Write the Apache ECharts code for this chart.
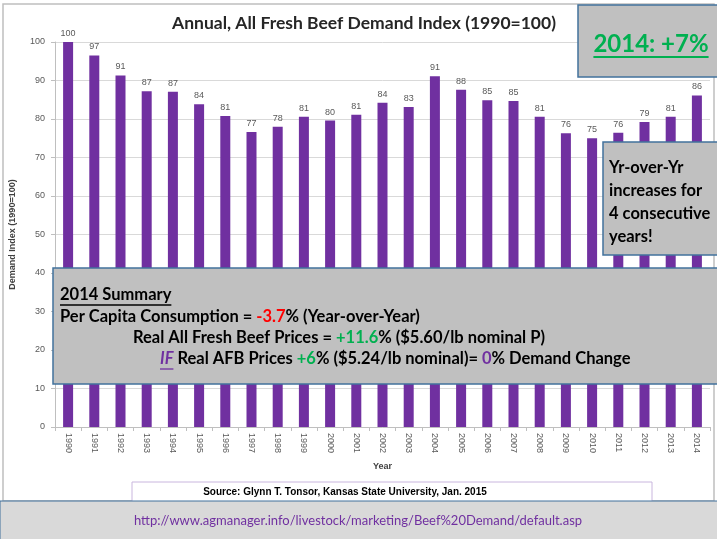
<!DOCTYPE html>
<html>
<head>
<meta charset="utf-8">
<script src="https://cdn.jsdelivr.net/npm/echarts@6/dist/echarts.min.js"></script>
<style>
  html, body { margin: 0; padding: 0; background: #fff; }
  #chart { width: 717px; height: 539px; }
</style>
</head>
<body>
<div id="chart"></div>
<script>
// data
const years = ['1990', '1991', '1992', '1993', '1994', '1995', '1996', '1997', '1998', '1999',
  '2000', '2001', '2002', '2003', '2004', '2005', '2006', '2007', '2008', '2009',
  '2010', '2011', '2012', '2013', '2014']
const demandIndex = [100, 96.5, 91.3, 87.2, 87.1, 83.8, 80.8, 76.6, 78, 80.6,
  79.6, 81.1, 84.2, 83.1, 91.1, 87.6, 84.9, 84.7, 80.6, 76.3,
  75, 76.4, 79.2, 80.6, 86.1]
const yTicks = [0, 10, 20, 30, 40, 50, 60, 70, 80, 90, 100]

const purple = '#7030a0'
const green = '#00b050'
const axisColor = '#595959'
const boxFill = '#c0c0c0'
const boxLine = '#41719c'
const calibri = 'Lato, "Open Sans", sans-serif'

// measure text to place underlines
const ctx = document.createElement('canvas').getContext('2d')
function textWidth (text, font) {
  ctx.font = font
  return ctx.measureText(text).width
}

const myChart = echarts.init(document.getElementById('chart'))

function underline (x, y, text, font, color, lw) {
  return {
    type: 'line',
    z: 20,
    shape: { x1: x, y1: y, x2: x + textWidth(text, font), y2: y },
    style: { stroke: color, lineWidth: lw || 1.5 }
  }
}

const sumSize = 16.5
const sumFont = 'bold ' + sumSize + 'px ' + calibri
const rich = {
  k: { fontFamily: calibri, fontWeight: 'bold', fontSize: sumSize, fill: '#000' },
  r: { fontFamily: calibri, fontWeight: 'bold', fontSize: sumSize, fill: '#ff0000' },
  g: { fontFamily: calibri, fontWeight: 'bold', fontSize: sumSize, fill: green },
  p: { fontFamily: calibri, fontWeight: 'bold', fontSize: sumSize, fill: purple },
  pi: { fontFamily: calibri, fontWeight: 'bold', fontStyle: 'italic', fontSize: sumSize, fill: purple }
}

function richLine (x, y, str) {
  return {
    type: 'text',
    z: 20,
    x: x,
    y: y,
    style: { text: str, rich: rich, verticalAlign: 'middle', font: sumFont }
  }
}

const bigFont = 'bold 24px ' + calibri

const graphics = [
  // chart frame
  { type: 'rect', z: -1, shape: { x: 3, y: 4, width: 711, height: 497 },
    style: { fill: 'none', stroke: '#bfbfbf', lineWidth: 1.5 } },
  // title
  { type: 'text', z: 5, x: 364, y: 23,
    style: { text: 'Annual, All Fresh Beef Demand Index (1990=100)', font: 'bold 17.5px ' + calibri,
      fill: '#262626', align: 'center', verticalAlign: 'middle' } },
  // 2014 box
  { type: 'rect', z: 15, shape: { x: 578, y: 5, width: 140, height: 72 },
    style: { fill: boxFill, stroke: boxLine, lineWidth: 1.5 } },
  { type: 'text', z: 20, x: 651, y: 44,
    style: { text: '2014: +7%', font: bigFont, fill: green, align: 'center', verticalAlign: 'middle' } },
  underline(651 - textWidth('2014: +7%', bigFont) / 2, 57, '2014: +7%', bigFont, green, 2),
  // yr-over-yr box
  { type: 'rect', z: 15, shape: { x: 603, y: 142, width: 116, height: 113 },
    style: { fill: boxFill, stroke: boxLine, lineWidth: 1.5 } },
  { type: 'text', z: 20, x: 609, y: 156,
    style: { text: 'Yr-over-Yr\nincreases for\n4 consecutive\nyears!', font: 'bold 16.5px ' + calibri,
      lineHeight: 23, fill: '#000', align: 'left', verticalAlign: 'top' } },
  // summary box
  { type: 'rect', z: 15, shape: { x: 53, y: 268, width: 666, height: 116 },
    style: { fill: boxFill, stroke: boxLine, lineWidth: 1.5 } },
  richLine(60, 295, '{k|2014 Summary}'),
  underline(60, 305, '2014 Summary', sumFont, '#000', 1.3),
  richLine(60, 317, '{k|Per Capita Consumption = }{r|-3.7}{k|% (Year-over-Year)}'),
  richLine(133, 338, '{k|Real All Fresh Beef Prices = }{g|+11.6}{k|% ($5.60/lb nominal P)}'),
  richLine(160, 359, '{pi|IF}{k| Real AFB Prices }{g|+6}{k|% ($5.24/lb nominal)= }{p|0}{k|% Demand Change}'),
  underline(160, 369, 'IF', 'italic ' + sumFont, purple, 1.3),
  // source box
  { type: 'rect', z: 5, shape: { x: 132, y: 482, width: 520, height: 22 },
    style: { fill: '#fff', stroke: '#c9b6de', lineWidth: 1 } },
  { type: 'text', z: 6, x: 345, y: 492,
    style: { text: 'Source: Glynn T. Tonsor, Kansas State University, Jan. 2015',
      font: 'bold 10px "Liberation Sans", Arial, sans-serif', fill: '#000', align: 'center', verticalAlign: 'middle' } },
  // url band
  { type: 'rect', z: 8, shape: { x: 0, y: 501, width: 718, height: 40 },
    style: { fill: '#d9d9d9', stroke: boxLine, lineWidth: 1 } },
  { type: 'text', z: 9, x: 358, y: 521,
    style: { text: 'http://www.agmanager.info/livestock/marketing/Beef%20Demand/default.asp',
      font: '13px ' + calibri, fill: purple, align: 'center', verticalAlign: 'middle' } }
]

const option = {
  animation: false,
  backgroundColor: '#fff',
  grid: { left: 53, right: 7, top: 42, bottom: 112 },
  xAxis: {
    type: 'category',
    data: years,
    name: 'Year',
    nameLocation: 'middle',
    nameGap: 35,
    nameTextStyle: { fontFamily: 'Liberation Sans', fontWeight: 'bold', fontSize: 9, color: '#404040' },
    axisLine: { lineStyle: { color: '#bfbfbf' } },
    axisTick: { show: true, length: 4, lineStyle: { color: '#bfbfbf' } },
    axisLabel: { rotate: -90, interval: 0, fontFamily: 'Liberation Sans', fontSize: 9, color: axisColor, margin: 6 }
  },
  yAxis: {
    type: 'value',
    min: yTicks[0],
    max: yTicks[yTicks.length - 1],
    interval: 10,
    name: 'Demand Index (1990=100)',
    nameLocation: 'middle',
    nameGap: 38,
    nameTextStyle: { fontFamily: 'Liberation Sans', fontWeight: 'bold', fontSize: 9, color: '#404040' },
    axisLine: { show: true, lineStyle: { color: '#bfbfbf' } },
    axisTick: { show: true, length: 4, lineStyle: { color: '#bfbfbf' } },
    axisLabel: { fontFamily: 'Liberation Sans', fontSize: 9, color: axisColor, margin: 10 },
    splitLine: { lineStyle: { color: '#d9d9d9' } }
  },
  series: [{
    type: 'bar',
    data: demandIndex,
    barWidth: 10,
    itemStyle: { color: purple },
    label: {
      show: true,
      position: 'top',
      distance: 4,
      fontFamily: 'Liberation Sans',
      fontSize: 9,
      color: axisColor,
      formatter: (p) => Math.round(p.value)
    }
  }],
  graphic: graphics
}

myChart.setOption(option)
</script>
</body>
</html>
